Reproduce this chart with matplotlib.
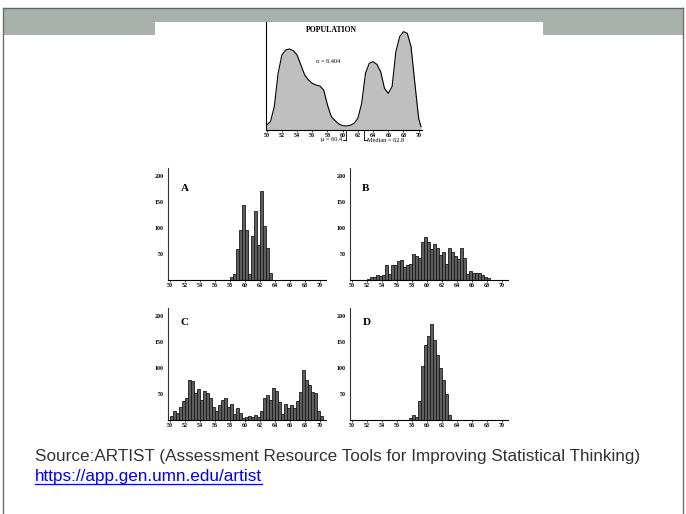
import matplotlib
matplotlib.use("Agg")
import matplotlib.pyplot as plt
import numpy as np
from matplotlib.patches import Rectangle
from matplotlib.lines import Line2D

# ---------------- data ----------------
pop_x = [50.0, 50.5, 51.0, 51.5, 52.0, 52.5, 53.0, 53.5, 54.0, 54.5, 55.0, 55.5,
         56.0, 56.5, 57.0, 57.5, 58.0, 58.5, 59.0, 59.5, 60.0, 60.5, 61.0, 61.5,
         62.0, 62.5, 63.0, 63.5, 64.0, 64.5, 65.0, 65.5, 66.0, 66.5, 67.0, 67.5,
         68.0, 68.5, 69.0, 69.5, 70.0, 70.3]
pop_y = [15, 25, 70, 170, 225, 240, 243, 238, 225, 195, 165, 150,
         140, 135, 132, 120, 75, 40, 28, 18, 13, 12, 14, 20,
         35, 80, 170, 200, 205, 197, 175, 125, 110, 130, 235, 280,
         295, 290, 250, 140, 35, 10]
pop_mean = 60.4
pop_median = 62.8
pop_sigma = 6.404

bin_width = 0.4
a_start = 58.0
a_counts = [6, 12, 61, 97, 144, 97, 12, 86, 133, 67, 172, 105, 63, 14]
b_start = 52.0
b_counts = [3, 6, 7, 11, 8, 10, 30, 12, 30, 30, 37, 40, 25, 30, 32, 51, 46, 43, 73,
            84, 74, 60, 70, 62, 48, 54, 32, 62, 54, 47, 41, 62,
            42, 12, 18, 15, 14, 15, 10, 7, 5]
c_start = 50.0
c_counts = [8, 18, 15, 26, 38, 43, 78, 75, 53, 60, 40, 57, 52, 43, 26, 18, 29, 40,
            43, 26, 32, 13, 23, 15, 5, 6, 9, 7, 11, 6, 18, 43, 48, 40, 63, 57, 35,
            12, 31, 24, 29, 24, 37, 55, 96, 78, 67, 55, 52, 18, 9]
d_start = 57.6
d_counts = [4, 10, 6, 37, 105, 145, 162, 186, 154, 125, 100, 78, 50, 10]

x_ticks = [50, 52, 54, 56, 58, 60, 62, 64, 66, 68, 70]
y_ticks = [50, 100, 150, 200]
panel_labels = ["A", "B", "C", "D"]

source_text = "Source:ARTIST (Assessment Resource Tools for Improving Statistical Thinking)"
url_text = "https://app.gen.umn.edu/artist"

# ---------------- figure ----------------
W, H = 686, 514
fig = plt.figure(figsize=(W / 100, H / 100), dpi=100)
fig.patch.set_facecolor("white")


def box(x0, y0, x1, y1):
    return [x0 / W, 1 - y1 / H, (x1 - x0) / W, (y1 - y0) / H]


# background slide layer in pixel coordinates
bg = fig.add_axes([0, 0, 1, 1], zorder=0)
bg.set_xlim(0, W)
bg.set_ylim(H, 0)
bg.axis("off")
bg.add_patch(Rectangle((3, 8), 680, 27, facecolor="#a9b1ac", edgecolor="none"))
bg.add_patch(Rectangle((155, 22), 388, 20, facecolor="white", edgecolor="none"))
bg.add_line(Line2D([3, 683], [8, 8], color="#5f6361", lw=1.0))
bg.add_line(Line2D([3, 3], [8, 514], color="#6f6f6f", lw=1.0))
bg.add_line(Line2D([683, 683], [8, 514], color="#6f6f6f", lw=1.0))

serif = ["Liberation Serif", "DejaVu Serif"]
tick_fs = 4.3

# ---------------- population ----------------
ax = fig.add_axes(box(265.7, 22, 421.7, 130), zorder=2)
ax.set_xlim(49.87, 70.4)
ax.set_ylim(0, 324)
ax.fill_between(pop_x, pop_y, 0, color="#bfbfbf", lw=0)
ax.plot(pop_x, pop_y, color="black", lw=0.8)
ax.spines["top"].set_visible(False)
ax.spines["right"].set_visible(False)
ax.spines["left"].set_linewidth(0.8)
ax.spines["bottom"].set_linewidth(0.8)
ax.set_yticks([])
ax.set_xticks(x_ticks)
ax.set_xticklabels([str(t) for t in x_ticks], fontsize=tick_fs, family=serif,
                   fontweight="bold")
ax.tick_params(axis="x", length=1.5, width=0.5, pad=0.8)
ax.patch.set_alpha(0)
ax.text(0.42, 0.93, "POPULATION", transform=ax.transAxes, ha="center", va="center",
        fontsize=5.6, family=serif, fontweight="bold")
ax.text(0.4, 0.63, "\u03c3 = %.3f" % pop_sigma, transform=ax.transAxes, ha="center",
        va="center", fontsize=4.5, family=serif)
yb = -30
ax.plot([pop_mean, pop_mean], [0, yb], color="black", lw=0.6, clip_on=False)
ax.plot([pop_mean - 0.35, pop_mean], [yb, yb], color="black", lw=0.6, clip_on=False)
ax.text(pop_mean - 0.5, yb, "\u03bc = %.1f" % pop_mean, ha="right", va="center",
        fontsize=4.5, family=serif)
ax.plot([pop_median, pop_median], [0, yb], color="black", lw=0.6, clip_on=False)
ax.plot([pop_median, pop_median + 0.35], [yb, yb], color="black", lw=0.6, clip_on=False)
ax.text(pop_median + 0.45, yb, "Median = %.1f" % pop_median, ha="left", va="center",
        fontsize=4.5, family=serif)

# ---------------- panels ----------------
panels = [
    (a_start, a_counts, box(167.5, 168, 326, 280.3), (0.11, 0.82)),
    (b_start, b_counts, box(349.5, 168, 508, 280.3), (0.104, 0.82)),
    (c_start, c_counts, box(167.5, 308, 326, 420.3), (0.11, 0.875)),
    (d_start, d_counts, box(349.5, 308, 508, 420.3), (0.11, 0.875)),
]
for (start, counts, rect, lab_pos), lab in zip(panels, panel_labels):
    pa = fig.add_axes(rect, zorder=2)
    lefts = start + bin_width * np.arange(len(counts))
    pa.bar(lefts, counts, width=bin_width, align="edge", facecolor="#5e5e5e",
           edgecolor="#1a1a1a", linewidth=0.6)
    pa.set_xlim(49.7, 70.8)
    pa.set_ylim(0, 216)
    pa.spines["top"].set_visible(False)
    pa.spines["right"].set_visible(False)
    pa.spines["left"].set_linewidth(0.8)
    pa.spines["bottom"].set_linewidth(0.8)
    pa.spines["left"].set_color("#333333")
    pa.set_xticks(x_ticks)
    pa.set_xticklabels([str(t) for t in x_ticks], fontsize=tick_fs, family=serif,
                       fontweight="bold")
    pa.set_yticks(y_ticks)
    pa.set_yticklabels([str(t) for t in y_ticks], fontsize=tick_fs, family=serif,
                       fontweight="bold")
    pa.tick_params(axis="x", length=1.2, width=0.5, pad=0.8)
    pa.tick_params(axis="y", length=0, pad=3)
    pa.patch.set_alpha(0)
    pa.text(lab_pos[0], lab_pos[1], lab, transform=pa.transAxes, ha="center",
            va="center", fontsize=8, family=serif, fontweight="bold")

# ---------------- source text ----------------
bg.text(35, 456, source_text, ha="left", va="center", fontsize=12.3,
        family=["Liberation Sans", "DejaVu Sans"], color="#333333")
t = bg.text(35, 477, url_text, ha="left", va="center", fontsize=12.3,
            family=["Liberation Sans", "DejaVu Sans"], color="#0000ee")
fig.canvas.draw()
bb = t.get_window_extent()
inv = bg.transData.inverted()
(x0, y0), (x1, y1) = inv.transform([[bb.x0, bb.y0], [bb.x1, bb.y1]])
bg.add_line(Line2D([x0, x1], [y0 - 0.5, y0 - 0.5], color="#0000ee", lw=0.9))

fig.savefig("out.png", dpi=100)
